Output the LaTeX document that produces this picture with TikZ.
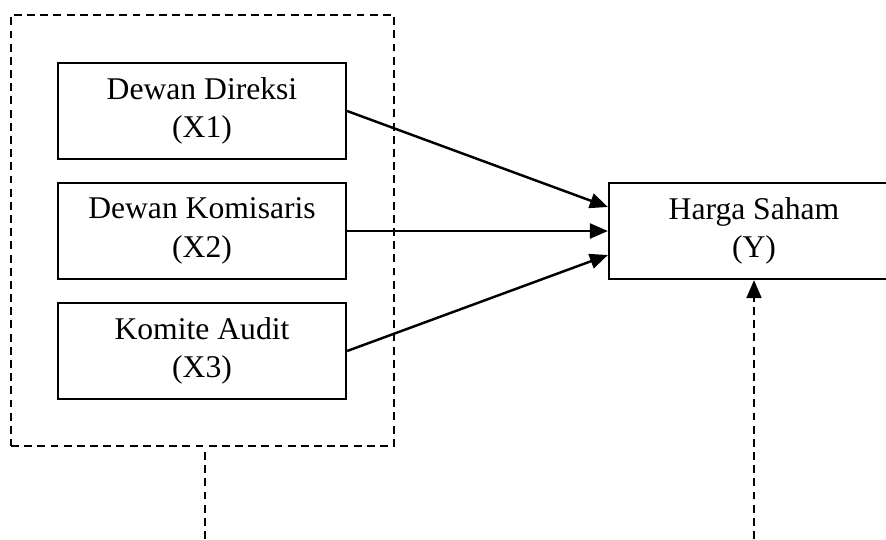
\documentclass[tikz,border=0pt]{standalone}
\usepackage{fontspec}
\setmainfont{Liberation Serif}
\usetikzlibrary{arrows.meta}

\begin{document}
\begin{tikzpicture}[x=0.02cm, y=-0.02cm,
    every node/.style={font=\fontsize{18pt}{22pt}\selectfont},
    var/.style={draw, line width=1.3pt, minimum width=5.76cm, minimum height=1.92cm, align=center, inner sep=0pt},
    grp/.style={draw, dash pattern=on 4.5pt off 3pt, line width=1pt, minimum width=7.66cm, minimum height=8.62cm, inner sep=0pt},
    link/.style={line width=1.4pt, -{Triangle[length=0.36cm, width=0.3cm]}},
    dash link/.style={link, line width=1.2pt, dash pattern=on 4.5pt off 3pt}]
    \clip (0, 0) rectangle (886, 539);

    \node (grp) at (202.5, 230.5) [grp] {};
    \node (x1) at (202, 111) [var] {Dewan Direksi\\(X1)};
    \node (x2) at (202, 231) [var] {Dewan Komisaris\\(X2)};
    \node (x3) at (202, 351) [var] {Komite Audit\\(X3)};
    \node (y) at (754, 231) [var, minimum width=5.8cm] {Harga Saham\\(Y)};
    \coordinate (c1) at (205, 539);
    \coordinate (c2) at (754, 539);

    \draw[link] (x1.east) to ([yshift=0.48cm] y.west);
    \draw[link] (x2) to (y);
    \draw[link] (x3.east) to ([yshift=-0.48cm] y.west);
    \draw[dash link, -] (c1) to (c1 |- grp.south);
    \draw[dash link] (c2) to (y.south);
  \end{tikzpicture}
\end{document}
